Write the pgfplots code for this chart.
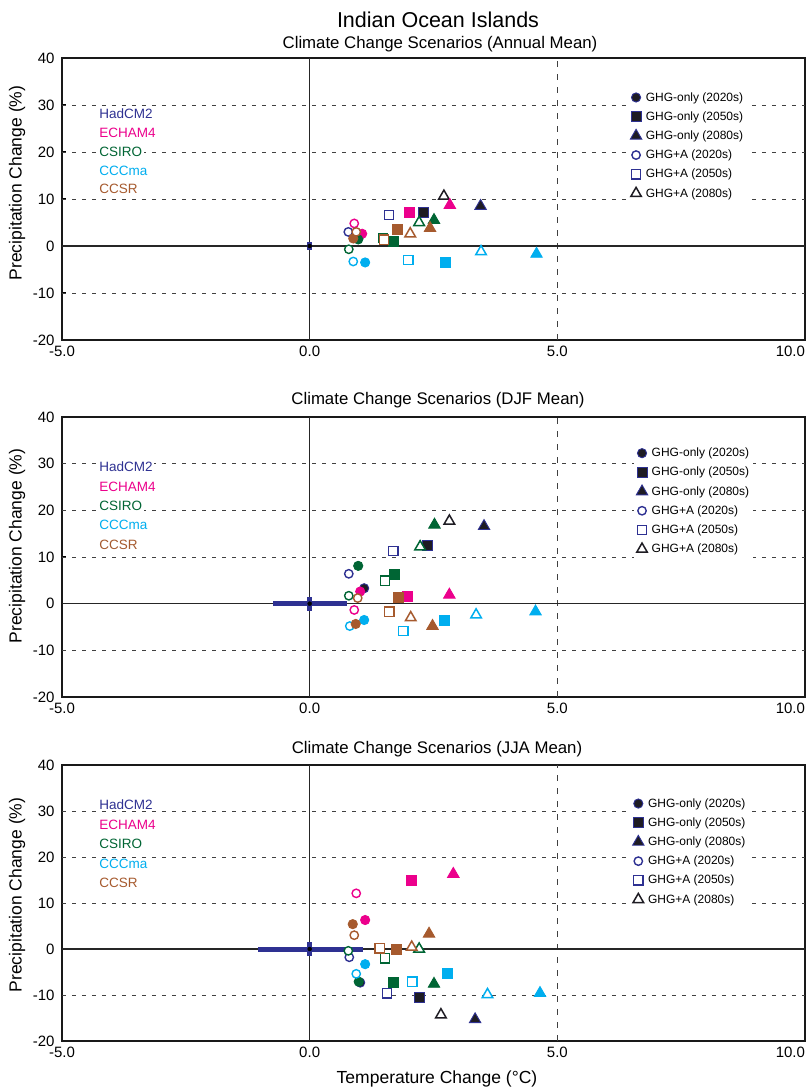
\documentclass[border=0pt]{standalone}
\usepackage{fontspec}
\setmainfont{Liberation Sans}
\usepackage{pgfplots}
\pgfplotsset{compat=1.18}
\definecolor{had}{RGB}{46,49,146}
\definecolor{hadk}{RGB}{30,28,35}
\definecolor{ech}{RGB}{236,0,140}
\definecolor{csi}{RGB}{0,101,52}
\definecolor{ccc}{RGB}{0,174,239}
\definecolor{ccs}{RGB}{166,90,46}
\tikzset{mname/.style={anchor=west, fill=white, inner sep=1.5pt, font=\fontsize{13.5}{13.5}\selectfont}}
\pgfplotsset{
 FC/.style 2 args={only marks, mark=*, mark size=4.6pt, mark options={solid, draw=#1, fill=#2, line width=0.9pt}},
 FS/.style 2 args={only marks, mark=square*, mark size=5.0pt, mark options={solid, draw=#1, fill=#2, line width=0.9pt}},
 FT/.style 2 args={only marks, mark=triangle*, mark size=6.6pt, mark options={solid, draw=#1, fill=#2, line width=0.9pt}},
 OC/.style={only marks, mark=*, mark size=4.2pt, mark options={solid, draw=#1, fill=white, line width=1.4pt}},
 OS/.style={only marks, mark=square*, mark size=4.7pt, mark options={solid, draw=#1, fill=white, line width=1.4pt}},
 OT/.style={only marks, mark=triangle*, mark size=6.1pt, mark options={solid, draw=#1, fill=white, line width=1.5pt}},
 panel/.style={
  width=743pt, scale only axis,
  xmin=-5, xmax=10, ymin=-20, ymax=40,
  xtick={-5,0,5,10}, xticklabels={-5.0,0.0,5.0,\makebox[0pt][r]{10.0}},
  ytick={-20,-10,0,10,20,30,40}, yticklabels={-20,-10,0,10,20,30,40},
  tick pos=left, major tick length=4pt, tick style={black, line width=1pt},
  tick label style={font=\fontsize{15}{15}\selectfont},
  yticklabel style={xshift=-4pt},
  xticklabel style={yshift=-2pt},
  axis line style={line width=2.5pt, black!90},
  extra x ticks={5}, extra x tick labels={},
  extra x tick style={grid=major, major tick length=0pt,
    major grid style={black!75, line width=0.9pt, dash pattern=on 6pt off 7pt}},
  extra y ticks={-10,10,20,30}, extra y tick labels={},
  extra y tick style={grid=major, major tick length=0pt,
    major grid style={black!75, line width=0.9pt, dash pattern=on 4pt off 6pt}},
  legend cell align=left,
  legend image code/.code={\draw[##1] plot coordinates {(0pt,0pt)};},
  legend style={draw=none, fill=white, inner sep=2pt, row sep=5pt,
    font=\fontsize{12}{12}\selectfont, anchor=north west,
    /tikz/every odd column/.append style={column sep=2pt}},
 },
}
\newcommand{\zerolines}{%
 \addplot[forget plot, black!85, line width=1.1pt] coordinates {(0,-20) (0,40)};
 \addplot[forget plot, black!85, line width=1.1pt] coordinates {(-5,0) (10,0)};
}
\begin{document}
\begin{tikzpicture}[x=1pt,y=1pt]
\useasboundingbox (0,0) rectangle (809,1088);
% ---------------- Annual ----------------
\begin{axis}[panel, height=282pt, at={(62pt,748pt)}, anchor=south west,
  legend style={at={(0.762,0.893)}}]
\zerolines
\addplot[forget plot, only marks, mark=none, error bars/.cd, y dir=both, y explicit, error mark=none,
  error bar style={line width=4.5pt, had}] coordinates {(0,0) +- (0,0.9)};
\addplot[FC={had}{hadk}] coordinates {(1.00,2.0)}; \addlegendentry{GHG-only (2020s)}
\addplot[FS={had}{hadk}] coordinates {(2.29,7.2)}; \addlegendentry{GHG-only (2050s)}
\addplot[FT={had}{hadk}] coordinates {(3.45,8.5)}; \addlegendentry{GHG-only (2080s)}
\addplot[OC=had] coordinates {(0.78,3.0)}; \addlegendentry{GHG+A (2020s)}
\addplot[OS=had] coordinates {(1.60,6.6)}; \addlegendentry{GHG+A (2050s)}
\addplot[OT=hadk] coordinates {(2.71,10.6)}; \addlegendentry{GHG+A (2080s)}
% ECHAM4
\addplot[forget plot, OC=ech] coordinates {(0.90,4.8)};
\addplot[forget plot, FC={ech}{ech}] coordinates {(1.06,2.6)};
\addplot[forget plot, FS={ech}{ech}] coordinates {(2.01,7.2)};
\addplot[forget plot, FT={ech}{ech}] coordinates {(2.83,8.7)};
% CSIRO
\addplot[forget plot, OC=csi] coordinates {(0.79,-0.7)};
\addplot[forget plot, OS=csi] coordinates {(1.48,1.7)};
\addplot[forget plot, OT=csi] coordinates {(2.21,5.0)};
\addplot[forget plot, FC={csi}{csi}] coordinates {(0.98,1.4)};
\addplot[forget plot, FS={csi}{csi}] coordinates {(1.70,0.9)};
\addplot[forget plot, FT={csi}{csi}] coordinates {(2.51,5.5)};
% CCCma
\addplot[forget plot, OC=ccc] coordinates {(0.88,-3.3)};
\addplot[forget plot, OS=ccc] coordinates {(1.99,-3.0)};
\addplot[forget plot, OT=ccc] coordinates {(3.46,-1.2)};
\addplot[forget plot, FC={ccc}{ccc}] coordinates {(1.12,-3.5)};
\addplot[forget plot, FS={ccc}{ccc}] coordinates {(2.75,-3.5)};
\addplot[forget plot, FT={ccc}{ccc}] coordinates {(4.58,-1.7)};
% CCSR
\addplot[forget plot, FC={ccs}{ccs}] coordinates {(0.88,1.6)};
\addplot[forget plot, FS={ccs}{ccs}] coordinates {(1.77,3.5)};
\addplot[forget plot, FT={ccs}{ccs}] coordinates {(2.43,3.8)};
\addplot[forget plot, OC=ccs] coordinates {(0.94,3.0)};
\addplot[forget plot, OS=ccs] coordinates {(1.50,1.3)};
\addplot[forget plot, OT=ccs] coordinates {(2.03,2.6)};
\node[mname, text=had] at (axis cs:-4.28,28.1) {HadCM2};
\node[mname, text=ech] at (axis cs:-4.28,24.0) {ECHAM4};
\node[mname, text=csi] at (axis cs:-4.28,20.0) {CSIRO};
\node[mname, text=ccc] at (axis cs:-4.28,16.0) {CCCma};
\node[mname, text=ccs] at (axis cs:-4.28,12.1) {CCSR};
\end{axis}
% ---------------- DJF ----------------
\begin{axis}[panel, height=280pt, at={(62pt,391pt)}, anchor=south west,
  legend style={at={(0.770,0.904)}}]
\zerolines
\addplot[forget plot, only marks, mark=none, error bars/.cd, x dir=both, x explicit, y dir=both, y explicit, error mark=none,
  error bar style={line width=5pt, had}] coordinates {(0,0) += (0.75,1.5) -= (0.74,1.5)};
\addplot[FC={had}{hadk}] coordinates {(1.10,3.3)}; \addlegendentry{GHG-only (2020s)}
\addplot[FS={had}{hadk}] coordinates {(2.38,12.4)}; \addlegendentry{GHG-only (2050s)}
\addplot[FT={had}{hadk}] coordinates {(3.52,16.6)}; \addlegendentry{GHG-only (2080s)}
\addplot[OC=had] coordinates {(0.79,6.4)}; \addlegendentry{GHG+A (2020s)}
\addplot[OS=had] coordinates {(1.69,11.3)}; \addlegendentry{GHG+A (2050s)}
\addplot[OT=hadk] coordinates {(2.82,17.7)}; \addlegendentry{GHG+A (2080s)}
% ECHAM4
\addplot[forget plot, OC=ech] coordinates {(0.90,-1.35)};
\addplot[forget plot, FC={ech}{ech}] coordinates {(1.02,2.6)};
\addplot[forget plot, FS={ech}{ech}] coordinates {(1.97,1.5)};
\addplot[forget plot, FT={ech}{ech}] coordinates {(2.82,1.9)};
% CSIRO
\addplot[forget plot, OC=csi] coordinates {(0.79,1.7)};
\addplot[forget plot, OS=csi] coordinates {(1.52,4.9)};
\addplot[forget plot, OT=csi] coordinates {(2.23,12.2)};
\addplot[forget plot, FC={csi}{csi}] coordinates {(0.98,8.1)};
\addplot[forget plot, FS={csi}{csi}] coordinates {(1.72,6.3)};
\addplot[forget plot, FT={csi}{csi}] coordinates {(2.52,16.9)};
% CCCma
\addplot[forget plot, OC=ccc] coordinates {(0.81,-4.8)};
\addplot[forget plot, OS=ccc] coordinates {(1.89,-5.85)};
\addplot[forget plot, OT=ccc] coordinates {(3.36,-2.4)};
\addplot[forget plot, FC={ccc}{ccc}] coordinates {(1.10,-3.5)};
\addplot[forget plot, FS={ccc}{ccc}] coordinates {(2.73,-3.5)};
\addplot[forget plot, FT={ccc}{ccc}] coordinates {(4.56,-1.7)};
% CCSR
\addplot[forget plot, FC={ccs}{ccs}] coordinates {(0.93,-4.35)};
\addplot[forget plot, FS={ccs}{ccs}] coordinates {(1.80,1.4)};
\addplot[forget plot, FT={ccs}{ccs}] coordinates {(2.48,-4.8)};
\addplot[forget plot, OC=ccs] coordinates {(0.97,1.2)};
\addplot[forget plot, OS=ccs] coordinates {(1.61,-1.7)};
\addplot[forget plot, OT=ccs] coordinates {(2.04,-3.0)};
\node[mname, text=had] at (axis cs:-4.28,29.3) {HadCM2};
\node[mname, text=ech] at (axis cs:-4.28,25.1) {ECHAM4};
\node[mname, text=csi] at (axis cs:-4.28,20.9) {CSIRO};
\node[mname, text=ccc] at (axis cs:-4.28,16.8) {CCCma};
\node[mname, text=ccs] at (axis cs:-4.28,12.7) {CCSR};
\end{axis}
% ---------------- JJA ----------------
\begin{axis}[panel, height=276pt, at={(62pt,47pt)}, anchor=south west,
  legend style={at={(0.765,0.894)}}]
\zerolines
\addplot[forget plot, only marks, mark=none, error bars/.cd, x dir=both, x explicit, y dir=both, y explicit, error mark=none,
  error bar style={line width=5pt, had}] coordinates {(0,0) += (1.07,1.6) -= (1.04,1.6)};
\addplot[FC={had}{hadk}] coordinates {(1.02,-7.3)}; \addlegendentry{GHG-only (2020s)}
\addplot[FS={had}{hadk}] coordinates {(2.21,-10.6)}; \addlegendentry{GHG-only (2050s)}
\addplot[FT={had}{hadk}] coordinates {(3.34,-15.3)}; \addlegendentry{GHG-only (2080s)}
\addplot[OC=had] coordinates {(0.80,-1.8)}; \addlegendentry{GHG+A (2020s)}
\addplot[OS=had] coordinates {(1.56,-9.6)}; \addlegendentry{GHG+A (2050s)}
\addplot[OT=hadk] coordinates {(2.65,-14.3)}; \addlegendentry{GHG+A (2080s)}
% ECHAM4
\addplot[forget plot, OC=ech] coordinates {(0.94,12.1)};
\addplot[forget plot, FC={ech}{ech}] coordinates {(1.12,6.3)};
\addplot[forget plot, FS={ech}{ech}] coordinates {(2.06,14.8)};
\addplot[forget plot, FT={ech}{ech}] coordinates {(2.90,16.3)};
% CSIRO
\addplot[forget plot, OC=csi] coordinates {(0.78,-0.4)};
\addplot[forget plot, OS=csi] coordinates {(1.52,-2.0)};
\addplot[forget plot, OT=csi] coordinates {(2.21,0.0)};
\addplot[forget plot, FC={csi}{csi}] coordinates {(0.99,-7.1)};
\addplot[forget plot, FS={csi}{csi}] coordinates {(1.69,-7.2)};
\addplot[forget plot, FT={csi}{csi}] coordinates {(2.51,-7.6)};
% CCCma
\addplot[forget plot, OC=ccc] coordinates {(0.94,-5.4)};
\addplot[forget plot, OS=ccc] coordinates {(2.07,-7.1)};
\addplot[forget plot, OT=ccc] coordinates {(3.59,-9.9)};
\addplot[forget plot, FC={ccc}{ccc}] coordinates {(1.12,-3.3)};
\addplot[forget plot, FS={ccc}{ccc}] coordinates {(2.78,-5.4)};
\addplot[forget plot, FT={ccc}{ccc}] coordinates {(4.65,-9.6)};
% CCSR
\addplot[forget plot, FC={ccs}{ccs}] coordinates {(0.87,5.4)};
\addplot[forget plot, FS={ccs}{ccs}] coordinates {(1.76,-0.2)};
\addplot[forget plot, FT={ccs}{ccs}] coordinates {(2.41,3.3)};
\addplot[forget plot, OC=ccs] coordinates {(0.90,3.0)};
\addplot[forget plot, OS=ccs] coordinates {(1.41,0.15)};
\addplot[forget plot, OT=ccs] coordinates {(2.06,0.4)};
\node[mname, text=had] at (axis cs:-4.28,31.3) {HadCM2};
\node[mname, text=ech] at (axis cs:-4.28,27.0) {ECHAM4};
\node[mname, text=csi] at (axis cs:-4.28,22.8) {CSIRO};
\node[mname, text=ccc] at (axis cs:-4.28,18.5) {CCCma};
\node[mname, text=ccs] at (axis cs:-4.28,14.3) {CCSR};
\end{axis}
% ---------------- titles and labels ----------------
\node[anchor=base, font=\fontsize{21.5}{21.5}\selectfont] at (438,1060) {Indian Ocean Islands};
\node[anchor=base, font=\fontsize{16.8}{16.8}\selectfont] at (440,1039.5) {Climate Change Scenarios (Annual Mean)};
\node[anchor=base, font=\fontsize{16.8}{16.8}\selectfont] at (438,683) {Climate Change Scenarios (DJF Mean)};
\node[anchor=base, font=\fontsize{16.8}{16.8}\selectfont] at (437,334) {Climate Change Scenarios (JJA Mean)};
\node[anchor=base, font=\fontsize{17.5}{17.5}\selectfont] at (437,5) {Temperature Change (°C)};
\node[rotate=90, font=\fontsize{17.5}{17.5}\selectfont] at (17,905) {Precipitation Change (\%)};
\node[rotate=90, font=\fontsize{17.5}{17.5}\selectfont] at (17,542) {Precipitation Change (\%)};
\node[rotate=90, font=\fontsize{17.5}{17.5}\selectfont] at (17,193) {Precipitation Change (\%)};
\end{tikzpicture}
\end{document}
